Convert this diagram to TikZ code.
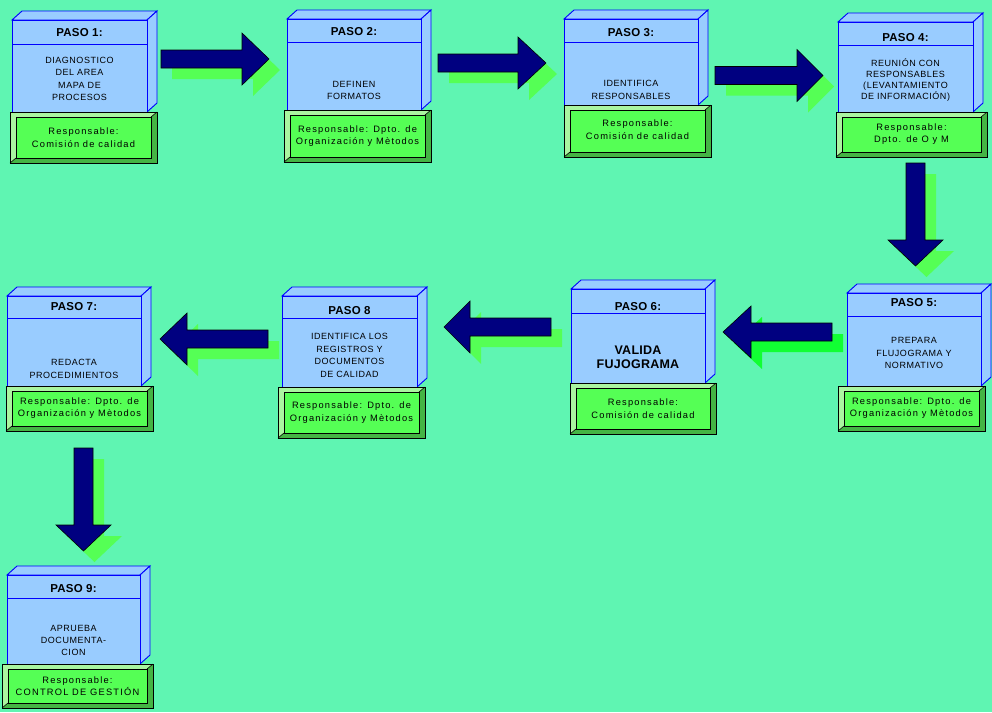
\documentclass[tikz,border=0pt]{standalone}
\usepackage{fontspec}
\setmainfont{Liberation Sans}
\newfontfamily\bodyfont[LetterSpace=6]{Liberation Sans}
\newfontfamily\respfont[LetterSpace=13]{Liberation Sans}
\newfontfamily\pasofont[LetterSpace=2]{Liberation Sans}
\definecolor{bg}{HTML}{5FF5B2}
\definecolor{cubeblue}{HTML}{99CCFF}
\definecolor{cubeline}{HTML}{0000FF}
\definecolor{facegreen}{HTML}{55FF55}
\definecolor{lightbevel}{HTML}{AAF5A0}
\definecolor{darkbevel}{HTML}{44B444}
\definecolor{navy}{HTML}{000080}
\definecolor{shadowgreen}{HTML}{55FF55}
\definecolor{brightshadow}{HTML}{11FF33}
\tikzset{
  cube/.style={fill=cubeblue, draw=cubeline, line width=0.9pt, line join=miter},
  pasotext/.style={font=\pasofont\fontsize{11.5}{13}\selectfont\bfseries, inner sep=0pt},
  bodytext/.style={font=\bodyfont\fontsize{9}{12.5}\selectfont, align=center, inner sep=0pt},
  boldbody/.style={font=\pasofont\fontsize{12.5}{14}\selectfont\bfseries, align=center, inner sep=0pt},
  resptext/.style={font=\respfont\fontsize{9.3}{12.8}\selectfont, align=center, inner sep=0pt},
  navyarrow/.style={fill=navy, draw=black, line width=0.6pt, line join=miter},
}
\newcommand{\cubebox}[5]{%
  \filldraw[cube] (#1,#2) -- (#1+10,#2-9) -- (#3+10,#2-9) -- (#3,#2) -- cycle;
  \filldraw[cube] (#3,#2) -- (#3+10,#2-9) -- (#3+10,#4-9) -- (#3,#4) -- cycle;
  \filldraw[cube] (#1,#2) rectangle (#3,#4);
  \draw[cubeline, line width=0.9pt] (#1,#5) -- (#3,#5);
}
\newcommand{\greenbox}[4]{%
  \fill[darkbevel] (#1,#2) rectangle (#3,#4);
  \fill[lightbevel] (#1,#2) -- (#3,#2) -- (#3-6,#2+5) -- (#1+6,#2+5) -- (#1+6,#4-5) -- (#1,#4) -- cycle;
  \draw[black, line width=0.6pt] (#1,#4) -- (#1+6,#4-5) (#3,#2) -- (#3-6,#2+5);
  \filldraw[fill=facegreen, draw=black, line width=0.9pt] (#1+6,#2+5) rectangle (#3-6,#4-5);
  \draw[black, line width=0.9pt] (#1,#2) rectangle (#3,#4);
}
\newcommand{\harrow}[5]{%
  \fill[#5, shift={(11,11)}] (#1,#4-9) -- (#2,#4-9) -- (#2,#4-26) -- (#3,#4) -- (#2,#4+26) -- (#2,#4+9) -- (#1,#4+9) -- cycle;
  \filldraw[navyarrow] (#1,#4-9) -- (#2,#4-9) -- (#2,#4-26) -- (#3,#4) -- (#2,#4+26) -- (#2,#4+9) -- (#1,#4+9) -- cycle;
}
\newcommand{\varrow}[5]{%
  \fill[#5, shift={(11,11)}] (#1-9.5,#2) -- (#1+9.5,#2) -- (#1+9.5,#3) -- (#1+27.5,#3) -- (#1,#4) -- (#1-27.5,#3) -- (#1-9.5,#3) -- cycle;
  \filldraw[navyarrow] (#1-9.5,#2) -- (#1+9.5,#2) -- (#1+9.5,#3) -- (#1+27.5,#3) -- (#1,#4) -- (#1-27.5,#3) -- (#1-9.5,#3) -- cycle;
}
\begin{document}
\begin{tikzpicture}[x=1pt,y=-1pt]
\fill[bg] (0,0) rectangle (992,712);
\useasboundingbox (0,0) rectangle (992,712);

% arrows
\harrow{161}{242}{269}{59}{shadowgreen}
\harrow{438}{518}{546}{63}{shadowgreen}
\harrow{715}{797}{823}{75.5}{shadowgreen}
\varrow{915.5}{163}{240}{266}{shadowgreen}
\harrow{832}{751}{723}{332}{brightshadow}
\harrow{551}{470}{444}{327}{shadowgreen}
\harrow{268}{187}{160}{339}{shadowgreen}
\varrow{83.5}{448}{525}{551}{shadowgreen}

% step 1
\cubebox{12}{20}{147}{112}{44}
\greenbox{10}{112}{157}{163}
\node[pasotext] (p1) at (79.5,33) {PASO 1:};
\node[bodytext] (b1) at (79.5,79) {DIAGNOSTICO\\DEL AREA\\MAPA DE\\PROCESOS};
\node[resptext] (r1) at (83.5,137.5) {Responsable:\\Comisión de calidad};

% step 2
\cubebox{287}{19}{421}{110}{42}
\greenbox{284}{110}{431}{162}
\node[pasotext] (p2) at (354,32) {PASO 2:};
\node[bodytext] (b2) at (354,90.5) {DEFINEN\\FORMATOS};
\node[resptext] (r2) at (357.5,136) {Responsable: Dpto. de\\Organización y Mètodos};

% step 3
\cubebox{564}{19}{698}{105}{42}
\greenbox{564}{105}{711}{157}
\node[pasotext] (p3) at (631,33) {PASO 3:};
\node[bodytext] (b3) at (631,90) {IDENTIFICA\\RESPONSABLES};
\node[resptext] (r3) at (637.5,130) {Responsable:\\Comisión de calidad};

% step 4
\cubebox{838}{22}{973}{112}{45}
\greenbox{836}{112}{987}{157}
\node[pasotext] (p4) at (905.5,38) {PASO 4:};
\node[bodytext, font=\bodyfont\fontsize{9}{11}\selectfont] (b4) at (905.5,80.5) {REUNIÓN CON\\RESPONSABLES\\(LEVANTAMIENTO\\DE INFORMACIÓN)};
\node[resptext, font=\respfont\fontsize{9.3}{11.5}\selectfont] (r4) at (911.5,134) {Responsable:\\Dpto. de O y M};

% step 5
\cubebox{847}{293}{981}{386}{316}
\greenbox{838}{386}{985}{431}
\node[pasotext] (p5) at (914,302.5) {PASO 5:};
\node[bodytext] (b5) at (914,353) {PREPARA\\FLUJOGRAMA Y\\NORMATIVO};
\node[resptext, font=\respfont\fontsize{9.3}{11.5}\selectfont] (r5) at (911.5,408) {Responsable: Dpto. de\\Organización y Mètodos};

% step 6
\cubebox{571}{289}{705}{383}{313}
\greenbox{570}{383}{716}{434}
\node[pasotext] (p6) at (638,306.5) {PASO 6:};
\node[boldbody] (b6) at (638,357.5) {VALIDA\\FUJOGRAMA};
\node[resptext] (r6) at (643,408.5) {Responsable:\\Comisión de calidad};

% step 8
\cubebox{282}{296}{417}{387}{318}
\greenbox{278}{387}{425}{438}
\node[pasotext] (p8) at (349.5,310.5) {PASO 8};
\node[bodytext] (b8) at (349.5,355.5) {IDENTIFICA LOS\\REGISTROS Y\\DOCUMENTOS\\DE CALIDAD};
\node[resptext] (r8) at (351.5,412.5) {Responsable: Dpto. de\\Organización y Mètodos};

% step 7
\cubebox{7}{296}{141}{386}{318}
\greenbox{6}{386}{153}{431}
\node[pasotext] (p7) at (74,307) {PASO 7:};
\node[bodytext] (b7) at (74,369) {REDACTA\\PROCEDIMIENTOS};
\node[resptext, font=\respfont\fontsize{9.3}{12}\selectfont] (r7) at (79.5,408.5) {Responsable: Dpto. de\\Organización y Mètodos};

% step 9
\cubebox{7}{575}{140}{664}{598}
\greenbox{2}{664}{153}{708}
\node[pasotext] (p9) at (73.5,588.5) {PASO 9:};
\node[bodytext, font=\bodyfont\fontsize{9}{12}\selectfont] (b9) at (73.5,640) {APRUEBA\\DOCUMENTA-\\CION};
\node[resptext, font=\respfont\fontsize{9.3}{11.5}\selectfont] (r9) at (77.5,686) {Responsable:\\CONTROL DE GESTIÓN};
\end{tikzpicture}
\end{document}
